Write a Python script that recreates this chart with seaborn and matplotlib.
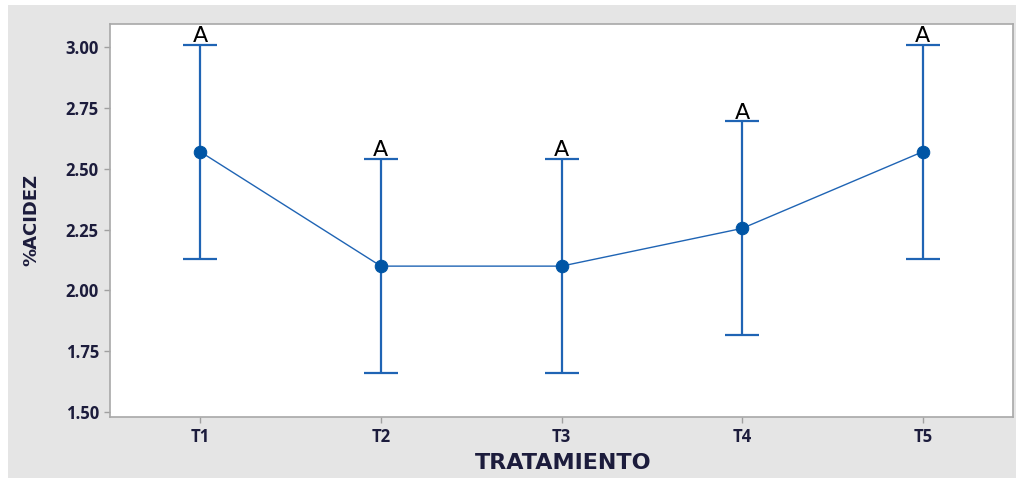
import matplotlib
matplotlib.use("Agg")
import matplotlib.pyplot as plt
import seaborn as sns
import pandas as pd
from matplotlib.patches import Rectangle

# Treatment means and 95% confidence limits for acidity
tratamientos = ["T1", "T2", "T3", "T4", "T5"]
media = [2.57, 2.10, 2.10, 2.255, 2.57]
limite_sup = [3.01, 2.54, 2.54, 2.695, 3.01]
limite_inf = [2.13, 1.66, 1.66, 1.815, 2.13]
grupos = ["A", "A", "A", "A", "A"]
y_ticks = [1.50, 1.75, 2.00, 2.25, 2.50, 2.75, 3.00]

sns.set_theme(style="white")
plt.rcParams["font.family"] = ["Open Sans", "DejaVu Sans"]

df = pd.DataFrame({"TRATAMIENTO": tratamientos, "media": media})

fig = plt.figure(figsize=(10.16, 4.78), dpi=100)
fig.patch.set_facecolor("white")
# light grey panel behind the plot
fig.patches.append(Rectangle((8 / 1016, 0), 1 - 8 / 1016, 1 - 5 / 478,
                             transform=fig.transFigure, facecolor="#e5e5e5",
                             edgecolor="none", zorder=-10))

ax = fig.add_axes([110 / 1016, 1 - 417 / 478, (1013 - 110) / 1016, (417 - 24) / 478])
ax.set_zorder(1)
ax.set_facecolor("white")

line_c = "#1f64b4"
mark_c = "#0055a5"

# confidence intervals
err_lo = [m - lo for m, lo in zip(media, limite_inf)]
err_hi = [hi - m for m, hi in zip(media, limite_sup)]
ax.errorbar(range(len(tratamientos)), media, yerr=[err_lo, err_hi],
            fmt="none", ecolor=line_c, elinewidth=1.6, capsize=12,
            capthick=1.6, zorder=2)

# means joined by a line
sns.pointplot(data=df, x="TRATAMIENTO", y="media", errorbar=None,
              color=mark_c, markers="o", markersize=9,
              linestyles="-", linewidth=1.0, ax=ax, zorder=3)
for ln in ax.lines:
    if ln.get_linestyle() == "-" and len(ln.get_xdata()) == len(tratamientos):
        ln.set_color(line_c)
        ln.set_markerfacecolor(mark_c)
        ln.set_markeredgecolor(mark_c)

# grouping letters above each interval
for i, (g, hi) in enumerate(zip(grupos, limite_sup)):
    ax.text(i, hi - 0.005, g, ha="center", va="bottom", fontsize=16,
            color="black", family=["DejaVu Sans"])

ax.set_xlim(-0.5, 4.5)
ax.set_ylim(1.48, 3.095)
ax.set_yticks(y_ticks)
ax.set_yticklabels([f"{v:.2f}" for v in y_ticks])

tick_c = "#1c1c3c"
ax.tick_params(axis="both", which="both", length=4, width=1, color="#a0a0a0",
               labelsize=12, labelcolor=tick_c, left=True, bottom=True, pad=4)
for lab in ax.get_xticklabels() + ax.get_yticklabels():
    lab.set_fontweight("bold")

for s in ax.spines.values():
    s.set_color("#a8a8a8")
    s.set_linewidth(1.2)

ax.set_xlabel("TRATAMIENTO", fontsize=16, fontweight="bold", color=tick_c,
              family=["DejaVu Sans"])
ax.set_ylabel("%ACIDEZ", fontsize=13, fontweight="bold", color=tick_c,
              family=["DejaVu Sans"])
ax.xaxis.set_label_coords((563 - 110) / 903, (417 - 463) / 393)
ax.yaxis.set_label_coords((31 - 110) / 903, 0.5)
ax.xaxis.label.set_va("center")
ax.yaxis.label.set_va("center")

fig.savefig("out.png", dpi=100, facecolor=fig.get_facecolor())
